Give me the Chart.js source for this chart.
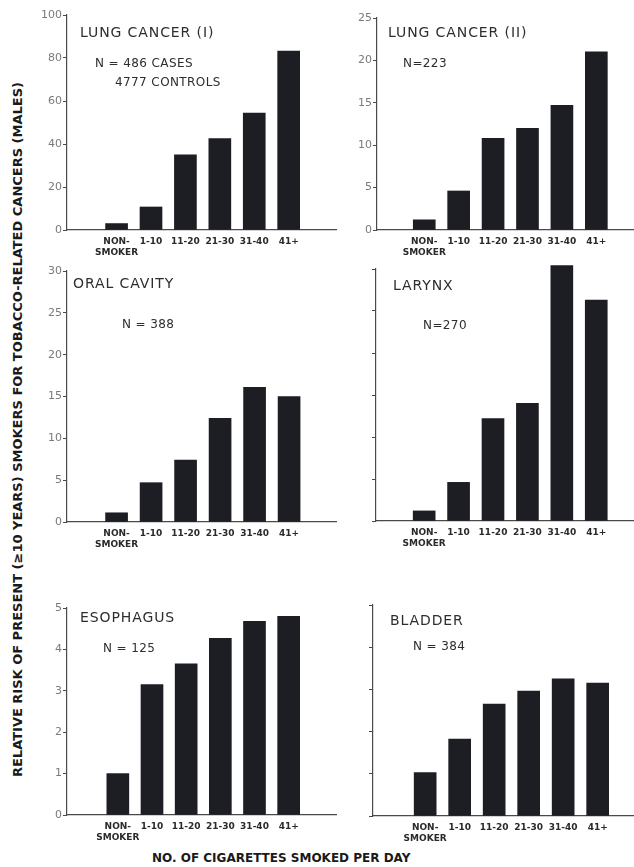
<!DOCTYPE html>
<html>
<head>
<meta charset="utf-8">
<script src="https://cdn.jsdelivr.net/npm/chart.js@4.4.1/dist/chart.umd.min.js"></script>
<style>
  html, body { margin: 0; padding: 0; background: #fff; }
  #page { position: relative; width: 634px; height: 867px; overflow: hidden; font-family: "DejaVu Sans", sans-serif; }
  canvas { position: absolute; }
  .lbl { position: absolute; white-space: nowrap; line-height: 1; color: #2e2e2e; }
  .ttl { font-size: 14px; letter-spacing: 0.9px; }
  .n { font-size: 12px; letter-spacing: 0.4px; }
  #ytitle { position: absolute; width: 760px; text-align: center; font-weight: bold; font-size: 13px; line-height: 13px; color: #1a1a1a; transform: rotate(-90deg); }
  #xtitle { position: absolute; font-weight: bold; font-size: 12px; line-height: 12px; color: #1a1a1a; white-space: nowrap; }
</style>
</head>
<body>
<div id="page">
  <div id="ytitle">RELATIVE RISK OF PRESENT (≥10 YEARS) SMOKERS FOR TOBACCO-RELATED CANCERS (MALES)</div>
  <div id="xtitle">NO. OF CIGARETTES SMOKED PER DAY</div>
</div>
<script>
// --- data ---
const categories = ["NON-SMOKER", "1-10", "11-20", "21-30", "31-40", "41+"];
const tickLabels = [["NON-", "SMOKER"], "1-10", "11-20", "21-30", "31-40", "41+"];

const lungCancerI  = [3.0, 10.7, 35.0, 42.5, 54.4, 83.2];
const lungCancerII = [1.2, 4.6, 10.8, 12.0, 14.7, 21.0];
const oralCavity   = [1.1, 4.7, 7.4, 12.4, 16.1, 15.0];
const larynx       = [1.2, 4.6, 12.2, 14.0, 30.4, 26.3];
const esophagus    = [1.0, 3.15, 3.65, 4.27, 4.68, 4.8];
const bladder      = [1.03, 1.82, 2.65, 2.96, 3.25, 3.15];

const panelTitles = ["LUNG CANCER (I)", "LUNG CANCER (II)", "ORAL CAVITY", "LARYNX", "ESOPHAGUS", "BLADDER"];
const panelNotes  = [["N = 486 CASES", "4777 CONTROLS"], ["N=223"], ["N = 388"], ["N=270"], ["N = 125"], ["N = 384"]];
const yMax  = [100, 25, 30, 30, 5, 5];
const yStep = [20, 5, 5, 5, 1, 1];
const yTickText = [true, true, true, false, true, false];

const series = [lungCancerI, lungCancerII, oralCavity, larynx, esophagus, bladder];

// --- layout of each panel on the page ---
const frames = [
  { ax: 67,  top: 15,  bot: 230, right: 337, c0: 99.5,  sp: 41.3 },
  { ax: 377, top: 18,  bot: 230, right: 634, c0: 408,   sp: 41.3 },
  { ax: 67,  top: 271, bot: 522, right: 337, c0: 99.5,  sp: 41.4 },
  { ax: 376, top: 269, bot: 521, right: 634, c0: 408,   sp: 41.3 },
  { ax: 67,  top: 608, bot: 815, right: 337, c0: 101,   sp: 41.0 },
  { ax: 373, top: 605, bot: 816, right: 634, c0: 409.5, sp: 41.4 },
];
const textPos = [
  { t: [80, 32],  n: [[95, 63], [115, 82]] },
  { t: [388, 32], n: [[403, 63]] },
  { t: [73, 283], n: [[122, 324]] },
  { t: [393, 285], n: [[423, 325]] },
  { t: [80, 617], n: [[103, 648]] },
  { t: [390, 620], n: [[413, 646]] },
];

const YW = 36, PT = 10, XH = 34;
const page = document.getElementById("page");
const axisColor = "#4a4a4a";

function addText(cls, text, x, cy, size) {
  const d = document.createElement("div");
  d.className = "lbl " + cls;
  d.textContent = text;
  d.style.left = x + "px";
  d.style.top = (cy - size / 2) + "px";
  page.appendChild(d);
}

series.forEach((vals, p) => {
  const f = frames[p];
  const w = YW + (f.right - f.ax);
  const h = PT + (f.bot - f.top) + XH;
  const cv = document.createElement("canvas");
  cv.width = w; cv.height = h;
  cv.style.left = (f.ax - YW) + "px";
  cv.style.top = (f.top - PT) + "px";
  cv.style.width = w + "px"; cv.style.height = h + "px";
  page.appendChild(cv);

  const xMin = -(f.c0 - f.ax) / f.sp;
  const xMax = xMin + (f.right - f.ax) / f.sp;

  new Chart(cv.getContext("2d"), {
    type: "bar",
    data: {
      datasets: [{
        data: categories.map((c, i) => ({ x: i, y: vals[i] })),
        backgroundColor: "#1d1d24",
        barThickness: 22,
        clip: false,
      }],
    },
    options: {
      responsive: false,
      animation: false,
      devicePixelRatio: 1,
      layout: { padding: { top: PT, left: 0, right: 0, bottom: 0 } },
      plugins: { legend: { display: false }, tooltip: { enabled: false } },
      scales: {
        x: {
          type: "linear",
          min: xMin,
          max: xMax,
          afterBuildTicks: (s) => { s.ticks = categories.map((c, i) => ({ value: i })); },
          afterFit: (s) => { s.height = XH; },
          grid: { drawOnChartArea: false, drawTicks: false, color: axisColor },
          border: { display: true, color: axisColor, width: 1.2 },
          ticks: {
            autoSkip: false,
            maxRotation: 0,
            padding: 6,
            color: "#2a2a2a",
            font: { family: "DejaVu Sans", size: 9, weight: "bold", lineHeight: 1.25 },
            callback: (v) => tickLabels[v],
          },
        },
        y: {
          min: 0,
          max: yMax[p],
          afterFit: (s) => { s.width = YW; },
          grid: { drawOnChartArea: false, drawTicks: true, tickLength: 4, color: axisColor },
          border: { display: true, color: axisColor, width: 1.2 },
          ticks: {
            stepSize: yStep[p],
            padding: 1,
            color: "#7a7a7a",
            font: { family: "DejaVu Sans", size: 11 },
            callback: (v) => (yTickText[p] ? v : ""),
          },
        },
      },
    },
  });

  const tp = textPos[p];
  addText("ttl", panelTitles[p], tp.t[0], tp.t[1], 14);
  panelNotes[p].forEach((s, k) => addText("n", s, tp.n[k][0], tp.n[k][1], 12));
});

// axis titles
const yt = document.getElementById("ytitle");
yt.style.left = (17 - 380) + "px";
yt.style.top = (429 - 6.5) + "px";
const xt = document.getElementById("xtitle");
xt.style.left = "152px";
xt.style.top = (858 - 6) + "px";
</script>
</body>
</html>
